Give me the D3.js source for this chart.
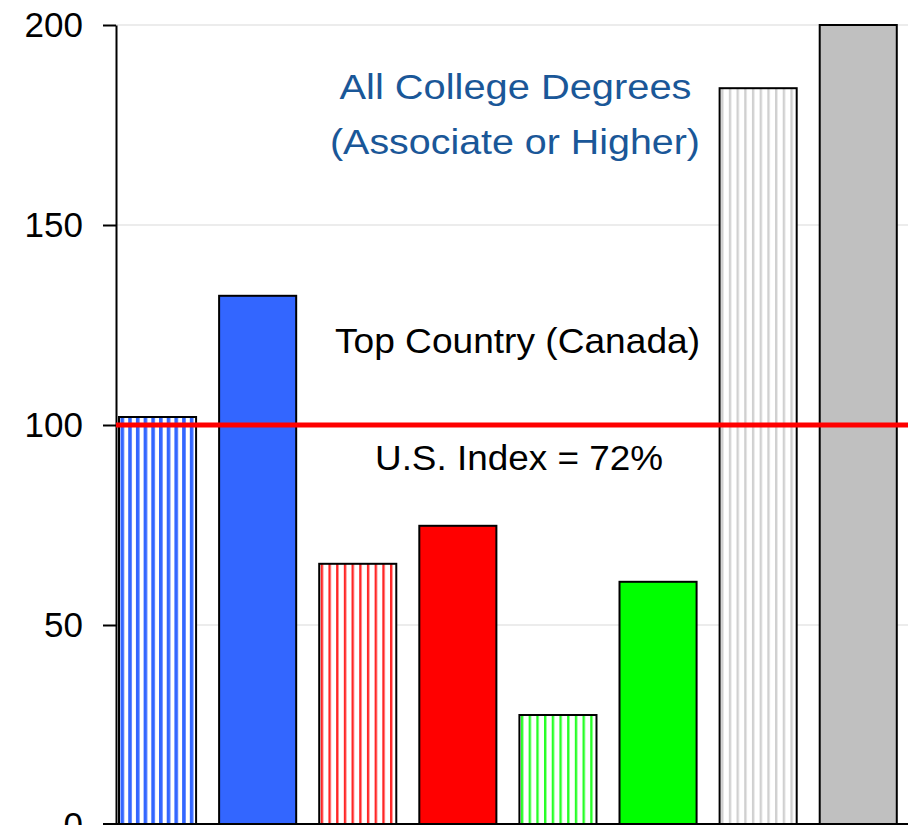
<!DOCTYPE html>
<html>
<head>
<meta charset="utf-8">
<script src="https://cdn.jsdelivr.net/npm/d3@7"></script>
<style>
  body { margin: 0; background: #fff; }
  svg { display: block; font-family: "Liberation Sans", Arial, sans-serif; }
</style>
</head>
<body>
<div id="graphicContainer"></div>
<script>
// chart values
const categories = ["c1", "c2", "c3", "c4", "c5", "c6", "c7", "c8"];
const values = [102, 132.3, 65.3, 74.8, 27.5, 60.8, 184.2, 200];
const yTicks = [0, 50, 100, 150, 200];
const usLine = 100;
const titleLines = ["All College Degrees", "(Associate or Higher)"];
const topLabel = "Top Country (Canada)";
const indexLabel = "U.S. Index = 72%";

// bar look: solid or striped, colour
const barColors = ["#3366ff", "#3366ff", "#ff0000", "#ff0000", "#00ff00", "#00ff00", "#c8c8c8", "#c0c0c0"];
const striped = [true, false, true, false, true, false, true, false];

const width = 908, height = 825;
const svg = d3.select("#graphicContainer").append("svg")
    .attr("width", width)
    .attr("height", height);

const axisX = 116;

const y = d3.scaleLinear()
    .domain([0, 200])
    .range([825, 25]);

const x = d3.scaleBand()
    .domain(categories)
    .range([107.5, 908.3])
    .paddingInner(0.23)
    .paddingOuter(0.115);

// gridlines
svg.append("g")
    .selectAll("line")
    .data(yTicks.filter(d => d > 0))
    .enter().append("line")
    .attr("x1", axisX)
    .attr("x2", width)
    .attr("y1", d => y(d))
    .attr("y2", d => y(d))
    .attr("stroke", "#d9d9d9")
    .attr("stroke-width", 1.2);

// stripe patterns, one per striped bar so the stripes line up with the bar edge
const defs = svg.append("defs");
categories.forEach((c, i) => {
    if (!striped[i]) return;
    const p = defs.append("pattern")
        .attr("id", "stripe" + i)
        .attr("patternUnits", "userSpaceOnUse")
        .attr("x", x(c) + 1.5)
        .attr("y", 0)
        .attr("width", 7.7)
        .attr("height", 10);
    p.append("rect").attr("width", 7.7).attr("height", 10).attr("fill", "#fff");
    p.append("rect")
        .attr("x", 0)
        .attr("width", i === 0 ? 3.6 : 2.4)
        .attr("height", 10)
        .attr("fill", barColors[i])
        .attr("opacity", i === 0 ? 1 : 0.85);
});

// bars
svg.append("g")
    .selectAll("rect")
    .data(categories)
    .enter().append("rect")
    .attr("x", d => x(d))
    .attr("width", x.bandwidth())
    .attr("y", (d, i) => y(values[i]))
    .attr("height", (d, i) => y(0) - y(values[i]))
    .attr("fill", (d, i) => striped[i] ? "url(#stripe" + i + ")" : barColors[i])
    .attr("stroke", "#000")
    .attr("stroke-width", 2);

// y axis
const yAxis = d3.axisLeft(y)
    .tickValues(yTicks)
    .tickSizeInner(13)
    .tickSizeOuter(0)
    .tickPadding(20);

const gAxis = svg.append("g")
    .attr("transform", `translate(${axisX},0)`)
    .call(yAxis);
gAxis.select(".domain").attr("stroke", "#000").attr("stroke-width", 2);
gAxis.selectAll(".tick line").attr("stroke", "#000").attr("stroke-width", 2);
gAxis.selectAll(".tick text")
    .attr("fill", "#000")
    .style("font-size", "35px")
    .style("font-family", "'Liberation Sans', Arial, sans-serif");

// bottom axis line
svg.append("line")
    .attr("x1", axisX - 13)
    .attr("x2", width)
    .attr("y1", y(0) - 1)
    .attr("y2", y(0) - 1)
    .attr("stroke", "#000")
    .attr("stroke-width", 2);

// U.S. reference line
svg.append("line")
    .attr("x1", axisX)
    .attr("x2", width)
    .attr("y1", y(usLine))
    .attr("y2", y(usLine))
    .attr("stroke", "#ff0000")
    .attr("stroke-width", 5);

// texts
const addText = (txt, cx, baseY, len, color) => {
    svg.append("text")
        .attr("x", cx)
        .attr("y", baseY)
        .attr("text-anchor", "middle")
        .attr("textLength", len)
        .attr("lengthAdjust", "spacingAndGlyphs")
        .style("font-size", "35px")
        .attr("fill", color)
        .text(txt);
};

addText(titleLines[0], 515.5, 99, 352, "#1a5798");
addText(titleLines[1], 515, 154, 370, "#1a5798");
addText(topLabel, 517.5, 353, 365, "#000");
addText(indexLabel, 519, 470, 288, "#000");
</script>
</body>
</html>
